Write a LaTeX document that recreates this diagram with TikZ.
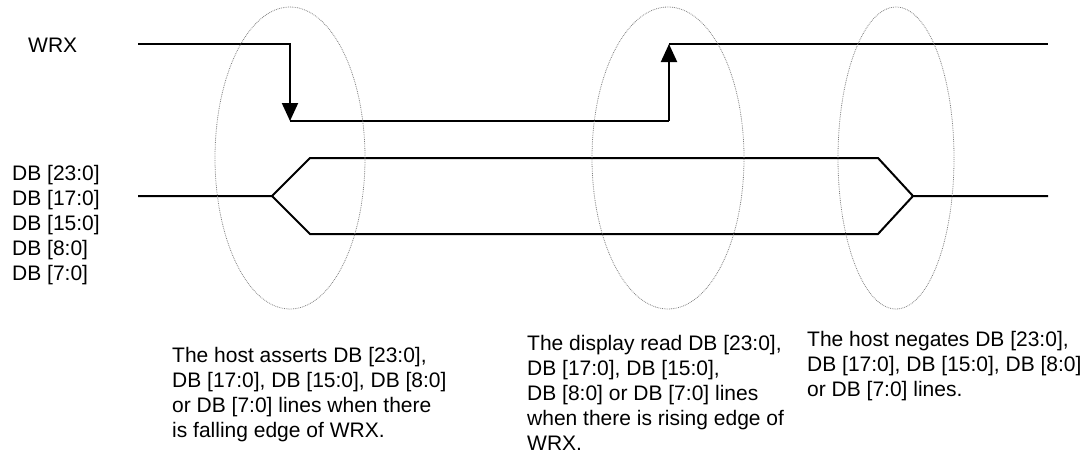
\documentclass[tikz,border=0pt]{standalone}
\usepackage{fontspec}
\setmainfont{Liberation Sans}
\usetikzlibrary{arrows.meta}
\newcommand{\ry}{151pt}
\tikzset{
  wave/.style={line width=2pt},
  pulse/.style={wave, -{Triangle[width=16pt,length=18pt]}},
  zone/.style={draw=gray, densely dotted, line width=0.8pt},
  note/.style={font=\fontsize{21}{25}\selectfont, align=left, inner sep=0pt, anchor=north west}
}

\begin{document}
\begin{tikzpicture}[x=1pt,y=-1pt]
\useasboundingbox (0,0) rectangle (1090,459);
% WRX
\coordinate (w0) at (138,44);
\coordinate (w1) at (290,44);
\coordinate (w2) at (290,121);
\coordinate (w3) at (669,121);
\coordinate (w4) at (669,44);
\coordinate (w5) at (1048,44);
\draw[pulse] (w0) -- (w1) -- (w2);
\draw[wave] (w2) -- (w3);
\draw[pulse] (w3) -- (w4);
\draw[wave] (w4) -- (w5);
% data bus
\coordinate (d0) at (138,196);
\coordinate (d1) at (272,196);
\coordinate (d2) at (310,158);
\coordinate (d3) at (878,158);
\coordinate (d4) at (913,196);
\coordinate (d5) at (1048,196);
\coordinate (d6) at (310,234);
\coordinate (d7) at (878,234);
\draw[wave] (d0) -- (d1) -- (d2) -- (d3) -- (d4) -- (d5);
\draw[wave] (d1) -- (d6) -- (d7) -- (d4);
% edges
\draw[zone] (290,158) ellipse [x radius=75pt, y radius=\ry];
\draw[zone] (668,158) ellipse [x radius=76pt, y radius=\ry];
\draw[zone] (896,158) ellipse [x radius=58pt, y radius=\ry];
% labels
\node[note, anchor=west] (wrx) at (28,45) {WRX};
\node[note] (db) at (12,165) {DB [23:0]\\DB [17:0]\\DB [15:0]\\DB [8:0]\\DB [7:0]};
\node[note] (assert) at (172,347) {The host asserts DB [23:0],\\DB [17:0], DB [15:0], DB [8:0]\\or DB [7:0] lines when there\\is falling edge of WRX.};
\node[note] (read) at (527,335) {The display read DB [23:0],\\DB [17:0], DB [15:0],\\DB [8:0] or DB [7:0] lines\\when there is rising edge of\\WRX.};
\node[note] (negate) at (807,331) {The host negates DB [23:0],\\DB [17:0], DB [15:0], DB [8:0]\\or DB [7:0] lines.};
\end{tikzpicture}
\end{document}
